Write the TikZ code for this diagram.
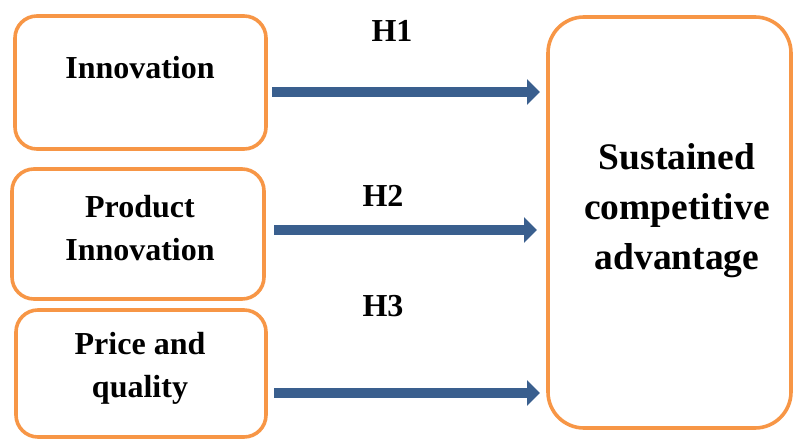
\documentclass[tikz,border=0pt]{standalone}
\usepackage{fontspec}
\setmainfont{Liberation Serif}
\usetikzlibrary{arrows.meta}
\definecolor{boxorange}{HTML}{F79646}
\definecolor{arrowblue}{HTML}{3A5F8E}
\begin{document}
\begin{tikzpicture}[x=1pt,y=-1pt,
  boxline/.style={draw=boxorange,line width=3.6pt,rounded corners=22pt},
  lbl/.style={font=\bfseries\fontsize{32}{43}\selectfont,align=center,inner sep=0pt},
  biglbl/.style={font=\bfseries\fontsize{37.5}{50}\selectfont,align=center,inner sep=0pt},
  arr/.style={draw=arrowblue,line width=10pt,-{Triangle[width=25pt,length=13pt]}}]
\useasboundingbox (0,0) rectangle (795,441);
% boxes
\draw[boxline] (15,16) rectangle (266,149);
\draw[boxline] (12,169) rectangle (264,299);
\draw[boxline] (16,310) rectangle (266,437);
\draw[boxline,rounded corners=36pt] (548,17) rectangle (791,428);
\coordinate (b1) at (266,92);
\coordinate (b2) at (264,230);
\coordinate (b3) at (266,393);
\coordinate (t1) at (548,92);
\coordinate (t2) at (548,230);
\coordinate (t3) at (548,393);
% texts
\node[lbl] (n1) at (140,68) {Innovation};
\node[lbl] (n2) at (140,228) {Product\\Innovation};
\node[lbl] (n3) at (140,368) {Price and\\quality};
\node[biglbl] (n4) at (677,211) {Sustained\\competitive\\advantage};
\node[lbl] (h1) at (392,31) {H1};
\node[lbl] (h2) at (383,196) {H2};
\node[lbl] (h3) at (383,306) {H3};
% arrows
\draw[arr] ([xshift=6pt]b1) -- ([xshift=-8pt]t1);
\draw[arr] ([xshift=10pt]b2) -- ([xshift=-11pt]t2);
\draw[arr] ([xshift=8pt]b3) -- ([xshift=-8pt]t3);
\end{tikzpicture}
\end{document}
